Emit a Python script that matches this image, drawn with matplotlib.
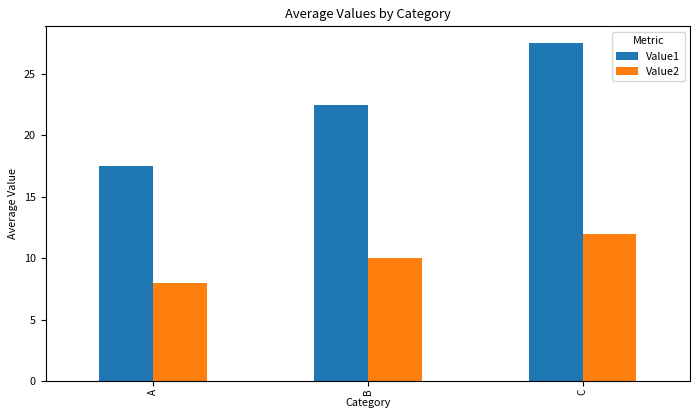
import numpy as np
import pandas as pd
import matplotlib
matplotlib.use("Agg")
import matplotlib.pyplot as plt

plt.rcParams['font.family'] = ['Noto Sans CJK SC', 'DejaVu Sans']
plt.rcParams['font.size'] = 7.8

categories = ["A", "B", "C"]
value1 = [17.5, 22.5, 27.5]
value2 = [8, 10, 12]

df = pd.DataFrame({"Value1": value1, "Value2": value2}, index=categories)
df.index.name = "Category"
df.columns.name = "Metric"

fig, ax = plt.subplots(figsize=(7, 4.2), dpi=100)
df.plot(kind="bar", ax=ax)
ax.set_title("Average Values by Category")
ax.tick_params(axis="x", labelsize=7.2, pad=2)
ax.set_xlabel("Category")
ax.xaxis.set_label_coords(0.5, -0.048)
ax.set_ylabel("Average Value")
ax.legend(title="Metric")

fig.subplots_adjust(left=0.065, right=0.986, top=0.937, bottom=0.093)
fig.savefig("out.png")
